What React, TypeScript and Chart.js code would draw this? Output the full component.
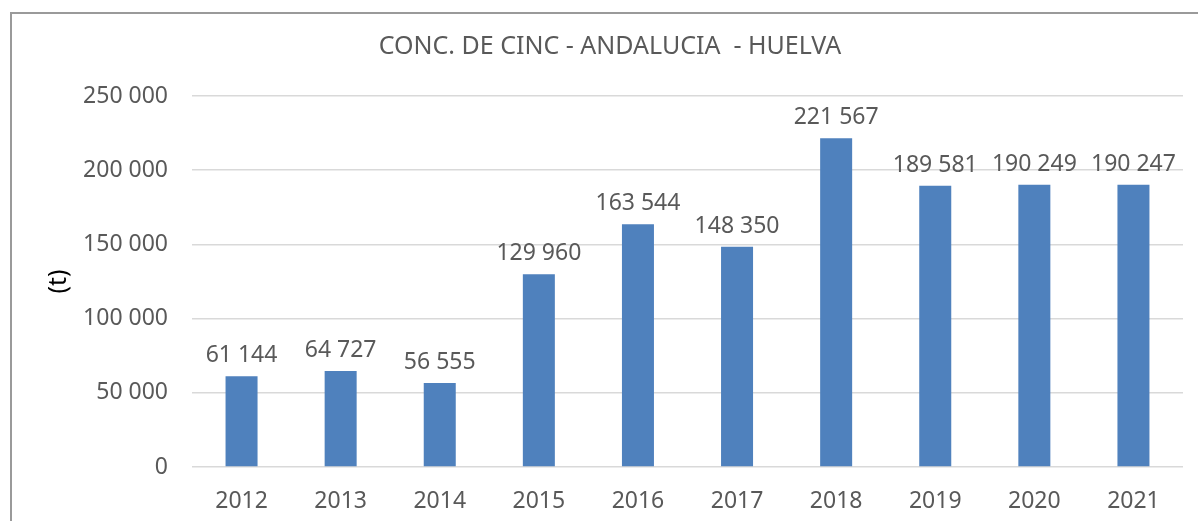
import React, { useEffect, useRef } from "react";
import { Chart, registerables } from "chart.js";

Chart.register(...registerables);

const categories = ["2012", "2013", "2014", "2015", "2016", "2017", "2018", "2019", "2020", "2021"];
const values = [61144, 64727, 56555, 129960, 163544, 148350, 221567, 189581, 190249, 190247];
const yTicks = [0, 50000, 100000, 150000, 200000, 250000];
const titleText = "CONC. DE CINC - ANDALUCIA  - HUELVA";
const yTitle = "(t)";

const FONT = "'Noto Sans', sans-serif";
const TEXT = "#595959";

const fmt = (v: number) => String(v).replace(/\B(?=(\d{3})+(?!\d))/g, " ");

const dataLabels = {
  id: "dataLabels",
  afterDatasetsDraw(chart: any) {
    const ctx = chart.ctx;
    const meta = chart.getDatasetMeta(0);
    ctx.save();
    ctx.font = `23px ${FONT}`;
    ctx.fillStyle = TEXT;
    ctx.textAlign = "center";
    ctx.textBaseline = "alphabetic";
    meta.data.forEach((bar: any, i: number) => {
      ctx.fillText(fmt(values[i]), bar.x, bar.y - 14);
    });
    ctx.restore();
  },
};

export default function App() {
  const ref = useRef<HTMLCanvasElement | null>(null);
  useEffect(() => {
    if (!ref.current) return;
    const chart = new Chart(ref.current, {
      type: "bar",
      data: {
        labels: categories,
        datasets: [
          {
            data: values,
            backgroundColor: "#4f81bd",
            barPercentage: 0.323,
            categoryPercentage: 1,
          },
        ],
      },
      options: {
        responsive: false,
        animation: false,
        layout: { padding: { top: 0, left: 0, right: 0, bottom: 0 } },
        plugins: {
          legend: { display: false },
          tooltip: { enabled: false },
          title: {
            display: true,
            text: titleText,
            color: TEXT,
            font: { family: FONT, size: 25, weight: "normal" },
            padding: { top: 32, bottom: 34 },
          },
        },
        scales: {
          x: {
            grid: { display: false, drawTicks: false },
            border: { display: false },
            ticks: {
              color: TEXT,
              font: { family: FONT, size: 23 },
              padding: 21,
            },
            afterFit: (s: any) => {
              s.height = 54;
            },
          },
          y: {
            min: 0,
            max: 250000,
            afterBuildTicks: (s: any) => {
              s.ticks = yTicks.map((v) => ({ value: v }));
            },
            grid: { color: "#d9d9d9", lineWidth: 1.5, drawTicks: false },
            border: { display: false },
            ticks: {
              color: TEXT,
              font: { family: FONT, size: 23 },
              padding: 24,
              callback: (v: any) => fmt(Number(v)),
            },
            title: {
              display: true,
              text: yTitle,
              color: "#000000",
              font: { family: FONT, size: 25 },
              padding: { top: 44, bottom: 0 },
            },
            afterFit: (s: any) => {
              s.width = 192;
            },
          },
          yR: {
            position: "right",
            display: true,
            grid: { display: false, drawTicks: false },
            border: { display: false },
            ticks: { display: false },
            afterFit: (s: any) => {
              s.width = 37;
            },
          },
        },
      },
      plugins: [dataLabels],
    } as any);
    return () => chart.destroy();
  }, []);

  return (
    <div
      style={{
        position: "absolute",
        left: 0,
        top: 0,
        width: 1198,
        height: 521,
        overflow: "hidden",
        background: "#ffffff",
      }}
    >
      <div
        style={{
          position: "absolute",
          left: 10,
          top: 12,
          width: 1300,
          height: 700,
          border: "2px solid #9a9a9a",
          boxSizing: "border-box",
        }}
      />
      <canvas
        ref={ref}
        width={1220}
        height={521}
        style={{ position: "absolute", left: 0, top: 0, width: 1220, height: 521 }}
      />
    </div>
  );
}
